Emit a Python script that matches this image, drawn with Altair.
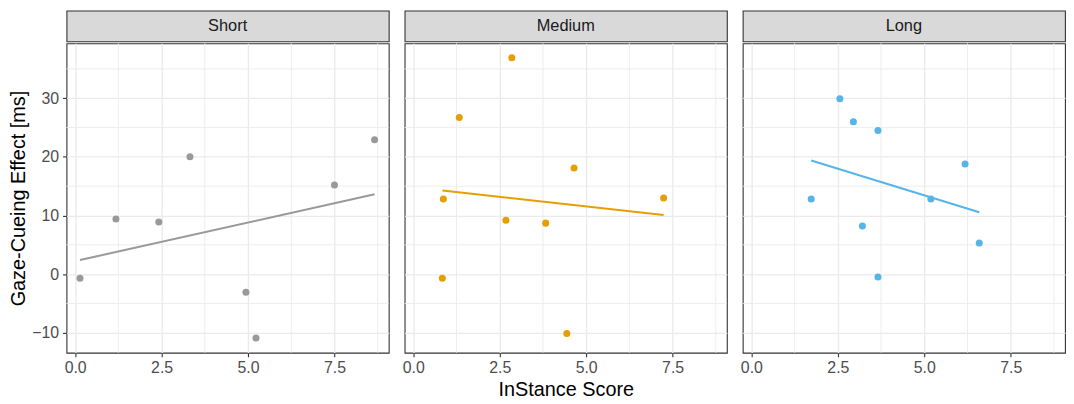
import altair as alt
import pandas as pd

groups = ["Short", "Medium", "Long"]
colors = ["#999999", "#E69F00", "#56B4E9"]

short_x = [0.14, 1.18, 2.42, 3.32, 4.94, 5.23, 7.50, 8.66]
short_y = [-0.7, 9.4, 8.9, 20.0, -3.1, -10.9, 15.2, 22.9]
medium_x = [0.84, 0.87, 1.33, 2.68, 2.85, 3.83, 4.44, 4.65, 7.24]
medium_y = [-0.7, 12.8, 26.7, 9.2, 36.9, 8.7, -10.1, 18.1, 13.0]
long_x = [1.73, 2.56, 2.95, 3.21, 3.66, 3.66, 5.19, 6.18, 6.59]
long_y = [12.8, 29.9, 26.0, 8.2, 24.5, -0.5, 12.8, 18.8, 5.3]

x_ticks = [0, 2.5, 5, 7.5]
x_minor = [1.25, 3.75, 6.25, 8.75]
y_ticks = [-10, 0, 10, 20, 30]
y_minor = [-5, 5, 15, 25, 35]
x_domain = [-0.25, 9.07]
y_domain = [-13.4, 39.35]

rows = []
for g, xs, ys in zip(groups, [short_x, medium_x, long_x], [short_y, medium_y, long_y]):
    for xv, yv in zip(xs, ys):
        rows.append({"group": g, "score": xv, "effect": yv})
df = pd.DataFrame(rows)

W = 325
H = 312
STRIP_H = 31
GRID = "#EBEBEB"
BORDER = "#333333"
FONT = "Liberation Sans"

xscale = alt.Scale(domain=x_domain, nice=False, zero=False)
yscale = alt.Scale(domain=y_domain, nice=False, zero=False)


def make_panel(i, g, color):
    xaxis = alt.Axis(
        values=x_ticks, format=".1f", grid=True, gridColor=GRID, gridWidth=1.4,
        domain=False, tickColor=BORDER, tickSize=4, tickWidth=1.1,
        labelColor="#4D4D4D", labelFontSize=16, labelPadding=3, labelFont=FONT,
        title="InStance Score" if i == 1 else None,
        titleFontSize=20, titleFontWeight="normal", titleColor="#000000",
        titlePadding=4, titleFont=FONT,
    )
    if i == 0:
        yaxis = alt.Axis(
            values=y_ticks, grid=True, gridColor=GRID, gridWidth=1.4,
            domain=False, tickColor=BORDER, tickSize=4, tickWidth=1.1,
            labelColor="#4D4D4D", labelFontSize=16, labelPadding=4, labelFont=FONT,
            title="Gaze-Cueing Effect [ms]", titleFontSize=20,
            titleFontWeight="normal", titleColor="#000000", titlePadding=3,
            titleFont=FONT,
        )
    else:
        yaxis = alt.Axis(
            values=y_ticks, grid=True, gridColor=GRID, gridWidth=1.4,
            domain=False, ticks=False, labels=False, title=None,
        )

    minor_x = alt.Chart(pd.DataFrame({"v": x_minor})).mark_rule(
        color=GRID, strokeWidth=0.9
    ).encode(x=alt.X("v:Q", scale=xscale, axis=xaxis))
    minor_y = alt.Chart(pd.DataFrame({"v": y_minor})).mark_rule(
        color=GRID, strokeWidth=0.9
    ).encode(y=alt.Y("v:Q", scale=yscale, axis=yaxis))

    base = alt.Chart(df).transform_filter(alt.datum.group == g)
    pts = base.mark_circle(size=50, opacity=1, color=color).encode(
        x=alt.X("score:Q", scale=xscale, axis=xaxis),
        y=alt.Y("effect:Q", scale=yscale, axis=yaxis),
    )
    line = base.transform_regression("score", "effect").mark_line(
        color=color, strokeWidth=2
    ).encode(
        x=alt.X("score:Q", scale=xscale, axis=xaxis),
        y=alt.Y("effect:Q", scale=yscale, axis=yaxis),
    )
    panel = alt.layer(minor_x, minor_y, pts, line).properties(
        width=W, height=H,
        view=alt.ViewBackground(fill="white", stroke=BORDER, strokeWidth=1.1),
    )

    strip = alt.Chart(pd.DataFrame({"group": [g]})).mark_text(
        fontSize=16.5, color="#1A1A1A", font=FONT
    ).encode(text="group:N").properties(
        width=W, height=STRIP_H,
        view=alt.ViewBackground(fill="#D9D9D9", stroke=BORDER, strokeWidth=1.1),
    )
    return alt.vconcat(strip, panel, spacing=0)


cols = [make_panel(i, g, c) for i, (g, c) in enumerate(zip(groups, colors))]
chart = alt.hconcat(*cols, spacing=12).properties(
    padding={"left": 0, "top": 0, "right": 0, "bottom": 0}
).configure(font=FONT)

chart.save("out.html", embed_options={"renderer": "svg", "actions": False})
